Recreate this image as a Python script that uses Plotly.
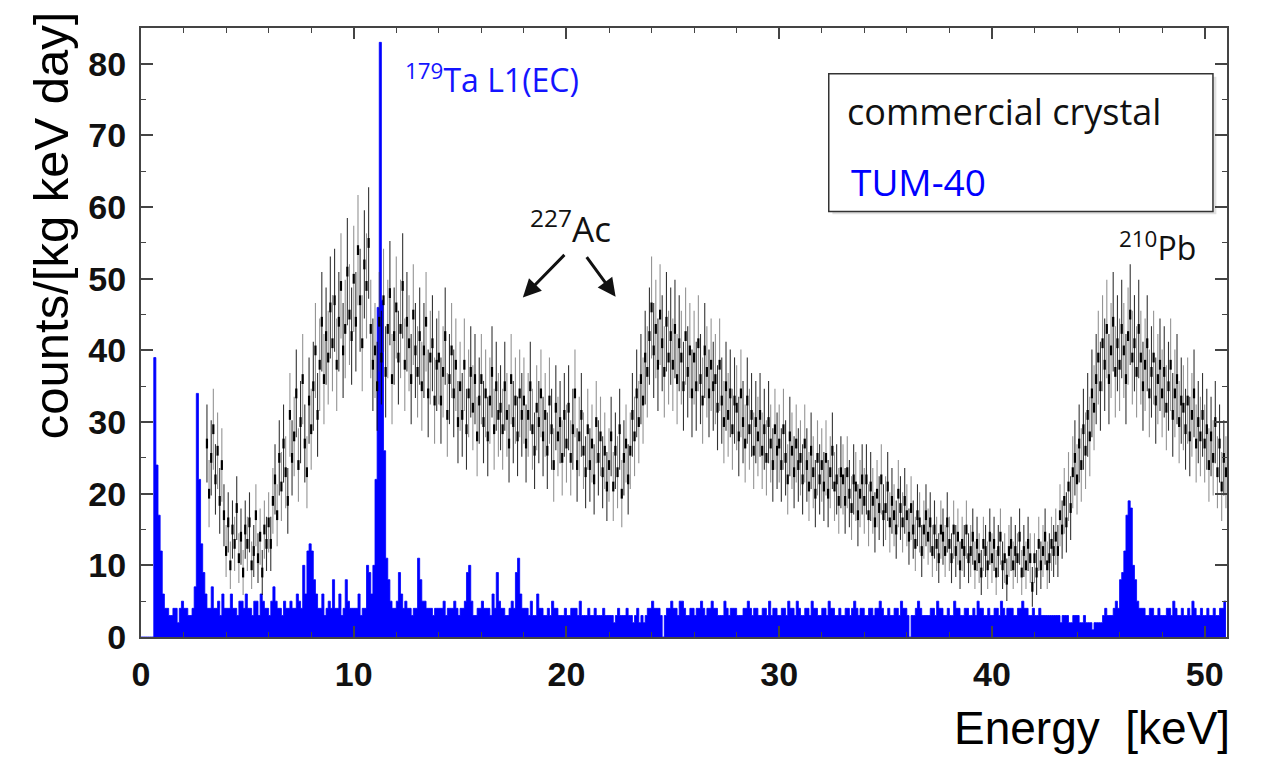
import numpy as np
import plotly.graph_objects as go

# ---------------- data ----------------
# TUM-40 histogram: bin width 0.1 keV, starting at 0.0 keV (one row = 1 keV)
tum_bin_start = 0.0
tum_bin_width = 0.1
tum40_counts = [
    0, 0, 0, 0, 0, 0, 39, 24, 17, 12,
    6, 4, 4, 3, 3, 4, 4, 2, 4, 5,
    4, 4, 3, 3, 4, 7, 34, 22, 13, 9,
    6, 4, 4, 7, 4, 4, 5, 3, 6, 4,
    4, 4, 6, 4, 4, 3, 5, 5, 4, 6,
    4, 4, 3, 5, 5, 3, 6, 5, 4, 4,
    3, 5, 7, 5, 4, 4, 3, 5, 4, 4,
    5, 4, 4, 6, 5, 4, 10, 6, 12, 13,
    12, 8, 6, 4, 4, 6, 3, 4, 5, 4,
    8, 4, 4, 6, 3, 4, 8, 5, 4, 4,
    4, 4, 6, 3, 4, 4, 10, 9, 6, 10,
    22, 46, 83, 47, 26, 11, 8, 5, 4, 4,
    5, 9, 6, 4, 5, 4, 4, 3, 4, 4,
    11, 8, 5, 5, 4, 4, 4, 3, 4, 4,
    4, 4, 5, 3, 4, 4, 4, 5, 4, 3,
    4, 4, 5, 9, 10, 5, 3, 3, 4, 4,
    5, 4, 4, 4, 3, 6, 4, 9, 5, 4,
    4, 3, 3, 4, 5, 4, 9, 11, 6, 4,
    4, 4, 3, 5, 3, 3, 6, 4, 4, 3,
    3, 4, 3, 5, 4, 4, 3, 3, 3, 4,
    3, 3, 4, 4, 4, 3, 5, 3, 3, 3,
    4, 3, 3, 4, 3, 3, 3, 4, 3, 3,
    3, 3, 2, 3, 4, 3, 3, 3, 4, 3,
    3, 2, 3, 4, 2, 3, 2, 3, 4, 4,
    5, 4, 4, 4, 3, 0, 3, 4, 4, 5,
    4, 4, 3, 5, 5, 4, 3, 3, 4, 4,
    3, 4, 4, 5, 4, 3, 4, 4, 5, 4,
    4, 3, 3, 3, 5, 4, 3, 4, 4, 4,
    3, 3, 3, 4, 4, 5, 4, 3, 4, 4,
    3, 3, 4, 4, 3, 5, 3, 4, 4, 3,
    3, 4, 4, 3, 5, 4, 4, 3, 5, 4,
    3, 3, 4, 4, 3, 5, 4, 4, 3, 3,
    4, 4, 3, 5, 4, 4, 3, 3, 4, 3,
    3, 4, 4, 3, 4, 5, 4, 3, 4, 4,
    3, 3, 4, 4, 3, 4, 4, 5, 4, 3,
    3, 4, 3, 3, 4, 4, 3, 5, 4, 4,
    3, 0, 3, 3, 4, 5, 4, 3, 3, 3,
    3, 4, 4, 3, 5, 4, 4, 3, 3, 4,
    3, 3, 5, 4, 4, 3, 3, 4, 4, 3,
    3, 4, 3, 5, 4, 4, 3, 3, 4, 3,
    3, 4, 4, 3, 5, 4, 3, 4, 4, 4,
    3, 3, 4, 4, 5, 4, 4, 3, 3, 4,
    3, 3, 4, 3, 3, 3, 3, 3, 3, 3,
    3, 3, 2, 3, 3, 3, 2, 2, 3, 3,
    3, 2, 2, 3, 2, 2, 2, 1, 2, 2,
    2, 2, 3, 4, 3, 3, 3, 4, 5, 4,
    8, 9, 12, 17, 19, 18, 10, 8, 5, 4,
    4, 4, 3, 3, 4, 4, 3, 3, 4, 3,
    3, 3, 4, 4, 3, 5, 4, 3, 3, 4,
    3, 3, 4, 3, 5, 4, 3, 3, 4, 3,
    3, 4, 3, 3, 4, 3, 3, 4, 4, 5,
]

# commercial crystal: points every 0.1 keV starting at 3.1 keV
comm_start = 3.1
comm_step = 0.1
commercial_counts = [
    27, 20, 25, 29, 22, 26, 19, 24, 17,
    12, 16, 10, 15, 13, 18, 11, 14, 9, 15,
    13, 16, 10, 12, 17, 11, 14, 9, 15, 13,
    16, 13, 19, 22, 17, 25, 21, 27, 23, 19,
    31, 25, 28, 34, 24, 30, 36, 27, 23, 33,
    29, 35, 40, 31, 38, 44, 36, 42, 39, 46,
    41, 47, 38, 44, 49, 40, 43, 51, 45, 42,
    50, 44, 54, 47, 41, 52, 49, 55, 43, 38,
    40, 35, 44, 39, 47, 37, 43, 48, 36, 42,
    46, 39, 43, 49, 38, 44, 41, 36, 45, 40,
    37, 42, 35, 40, 44, 34, 39, 41, 33, 38,
    39, 33, 37, 42, 31, 36, 40, 34, 38, 30,
    35, 31, 38, 29, 34, 37, 32, 36, 28, 33,
    36, 30, 34, 28, 33, 37, 29, 35, 31, 32,
    29, 35, 31, 27, 36, 30, 33, 28, 34, 31,
    33, 27, 31, 35, 29, 26, 32, 30, 34, 28,
    31, 26, 33, 29, 24, 32, 28, 30, 25, 31,
    27, 32, 25, 29, 34, 24, 28, 31, 26, 23,
    29, 24, 27, 22, 30, 25, 28, 23, 26, 21,
    24, 28, 21, 26, 23, 29, 20, 25, 27, 22,
    26, 31, 28, 34, 30, 36, 33, 39, 37, 42,
    46, 40, 43, 38, 45, 41, 37, 44, 39, 42,
    38, 43, 36, 41, 39, 35, 42, 37, 40, 34,
    39, 35, 41, 36, 33, 40, 37, 34, 38, 35,
    36, 32, 38, 33, 30, 35, 31, 34, 29, 33,
    32, 28, 34, 30, 27, 33, 29, 31, 26, 30,
    28, 31, 26, 29, 25, 30, 27, 24, 29, 26,
    27, 24, 29, 25, 22, 28, 26, 23, 27, 24,
    25, 22, 27, 24, 21, 26, 23, 20, 25, 22,
    24, 21, 25, 20, 23, 26, 21, 22, 19, 23,
    22, 19, 23, 20, 18, 22, 21, 17, 20, 22,
    19, 22, 17, 21, 19, 16, 20, 18, 22, 17,
    18, 21, 16, 19, 17, 15, 20, 18, 16, 19,
    17, 14, 18, 15, 13, 17, 16, 12, 15, 17,
    14, 16, 12, 15, 13, 11, 15, 14, 12, 16,
    13, 11, 15, 12, 14, 10, 13, 12, 15, 11,
    12, 14, 10, 13, 11, 9, 13, 12, 10, 14,
    11, 13, 9, 12, 14, 10, 11, 8, 12, 13,
    10, 12, 11, 14, 9, 12, 10, 13, 11, 7,
    11, 9, 13, 10, 12, 14, 10, 11, 13, 12,
    14, 12, 17, 15, 19, 16, 21, 18, 23, 25,
    22, 27, 24, 29, 26, 31, 28, 34, 32, 36,
    39, 35, 41, 38, 43, 36, 40, 44, 37, 41,
    38, 43, 40, 36, 42, 45, 39, 41, 37, 43,
    39, 35, 38, 41, 34, 37, 39, 33, 36, 38,
    34, 37, 32, 35, 38, 31, 34, 36, 30, 33,
    32, 29, 33, 28, 31, 34, 27, 30, 28, 31,
    27, 29, 24, 28, 25, 30, 23, 27, 21, 25,
    23,
]

x_ticks = [0, 10, 20, 30, 40, 50]
y_ticks = [0, 10, 20, 30, 40, 50, 60, 70, 80]

# ---------------- figure ----------------
n_tum = len(tum40_counts)
tum_x = np.round(tum_bin_start + tum_bin_width * np.arange(n_tum + 1), 3)
tum_y = np.array(tum40_counts + [tum40_counts[-1]], dtype=float)

n_c = len(commercial_counts)
comm_x = np.round(comm_start + comm_step * np.arange(n_c), 3)
comm_y = np.array(commercial_counts, dtype=float)
comm_err = np.sqrt(1.1 * comm_y)

fig = go.Figure()
fig.add_trace(go.Scatter(
    x=tum_x, y=tum_y, mode="lines", line_shape="hv",
    line=dict(color="rgb(0,0,255)", width=0.8),
    fill="tozeroy", fillcolor="rgb(0,0,255)", showlegend=False,
))
# commercial crystal points with error bars (alternating shades as in the original rendering)
for k, col in enumerate(["rgba(0,0,0,0.8)", "rgba(60,60,60,0.55)"]):
    sel = slice(k, None, 2)
    fig.add_trace(go.Scatter(
        x=comm_x[sel], y=comm_y[sel], mode="markers",
        marker=dict(symbol="line-ns", size=7, line=dict(color="black", width=2.2)),
        error_y=dict(type="data", array=comm_err[sel], color=col,
                     thickness=1.1, width=0),
        showlegend=False,
    ))

tickfont = dict(family="Liberation Sans, Arial, sans-serif", size=34, color="#111", weight="bold")
axcol = "#444"
fig.update_layout(
    xaxis=dict(
        range=[0, 51.05], tickmode="array", tickvals=x_ticks, ticks="inside", ticklen=11,
        tickwidth=1.5, tickcolor=axcol, showline=True, linecolor=axcol, linewidth=2,
        mirror="allticks", showgrid=False, zeroline=False, tickfont=tickfont,
        ticklabelstandoff=6,
        minor=dict(dtick=2, ticks="inside", ticklen=5, tickwidth=1.2, tickcolor=axcol),
    ),
    yaxis=dict(
        range=[0, 85], tickmode="array", tickvals=y_ticks, ticks="inside", ticklen=12,
        tickwidth=1.5, tickcolor=axcol, showline=True, linecolor=axcol, linewidth=2,
        mirror="allticks", showgrid=False, zeroline=False, tickfont=tickfont,
        ticklabelstandoff=6,
        minor=dict(dtick=5, ticks="inside", ticklen=5, tickwidth=1.2, tickcolor=axcol),
    ),
)

# legend box (drawn)
fig.add_shape(type="rect", xref="x", yref="y", x0=32.5, x1=50.55, y0=59.0, y1=78.2,
              line=dict(width=0), fillcolor="rgba(0,0,0,0.12)", layer="above")
fig.add_shape(type="rect", xref="x", yref="y", x0=32.33, x1=50.39, y0=59.4, y1=78.6,
              line=dict(color="#333", width=1.5), fillcolor="white", layer="above")

txtfont = "Open Sans, Noto Sans, sans-serif"
ann = [
    dict(x=33.1, y=73.3, xanchor="left", yanchor="middle", text="commercial crystal",
         font=dict(family=txtfont, size=36, color="#111")),
    dict(x=33.3, y=63.6, xanchor="left", yanchor="middle", text="TUM-40",
         font=dict(family=txtfont, size=37, color="rgb(0,0,255)")),
    dict(x=12.3, y=78.0, xanchor="left", yanchor="middle",
         text="<sup>179</sup>Ta L1(EC)", font=dict(family=txtfont, size=32, color="rgb(20,20,255)")),
    dict(x=20.2, y=57.3, xanchor="center", yanchor="middle",
         text="<sup>227</sup>Ac", font=dict(family=txtfont, size=35, color="#111")),
    dict(x=47.8, y=54.6, xanchor="center", yanchor="middle",
         text="<sup>210</sup>Pb", font=dict(family=txtfont, size=32, color="#111")),
]
for a in ann:
    fig.add_annotation(xref="x", yref="y", showarrow=False, **a)

# arrows for 227Ac
fig.add_annotation(xref="x", yref="y", x=17.95, y=47.4, ax=43, ay=-44, text="",
                   showarrow=True, arrowhead=2, arrowsize=1.2, arrowwidth=3, arrowcolor="#111")
fig.add_annotation(xref="x", yref="y", x=22.31, y=47.5, ax=-30, ay=-41, text="",
                   showarrow=True, arrowhead=2, arrowsize=1.2, arrowwidth=3, arrowcolor="#111")

# axis titles
titlefont = "Liberation Sans, Arial, sans-serif"
fig.add_annotation(xref="paper", yref="paper", x=-0.083, y=0.676, textangle=-90,
                   text="counts/[kg keV day]", showarrow=False, xanchor="center", yanchor="middle",
                   font=dict(family=titlefont, size=49, color="black"))
fig.add_annotation(xref="paper", yref="paper", x=1.0046, y=-0.149,
                   text="Energy\u00a0 [keV]", showarrow=False, xanchor="right", yanchor="middle",
                   font=dict(family=titlefont, size=46, color="black"))

fig.update_layout(
    width=1264, height=757,
    margin=dict(l=141, r=37, t=28, b=120, autoexpand=False),
    paper_bgcolor="white", plot_bgcolor="white",
    showlegend=False,
)

fig.write_html("out.html")
